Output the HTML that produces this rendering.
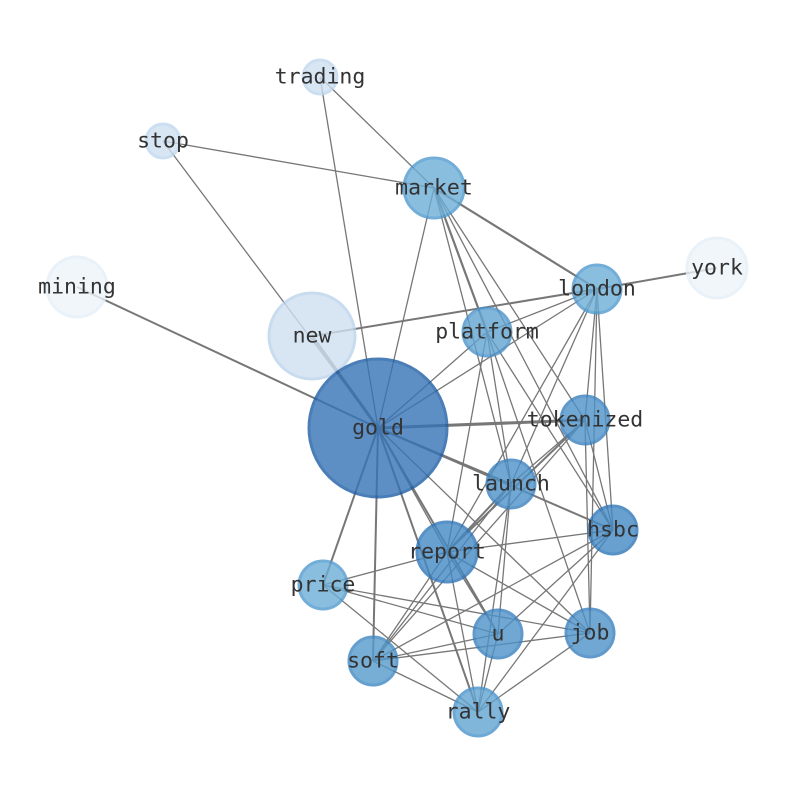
<!DOCTYPE html>
<html><head><meta charset="utf-8"><style>html,body{margin:0;padding:0;background:#fff}svg{display:block}</style></head><body>
<svg width="794" height="790" viewBox="0 0 794 790" xmlns="http://www.w3.org/2000/svg">
<g stroke="#777" stroke-width="1.3" fill="none">
<line x1="320" y1="77" x2="434" y2="188"/><line x1="320" y1="77" x2="378" y2="428"/>
<line x1="163" y1="141" x2="434" y2="188"/><line x1="163" y1="141" x2="378" y2="428"/>
<line x1="434" y1="188" x2="597" y2="289" stroke-width="2.2"/><line x1="434" y1="188" x2="487" y2="332" stroke-width="2.2"/>
<line x1="434" y1="188" x2="378" y2="428"/><line x1="434" y1="188" x2="585" y2="420"/><line x1="434" y1="188" x2="511" y2="484"/><line x1="434" y1="188" x2="613" y2="530"/>
<line x1="77" y1="287" x2="378" y2="428" stroke-width="2"/>
<line x1="717" y1="268" x2="597" y2="289" stroke-width="2"/>
<line x1="312" y1="336" x2="597" y2="289" stroke-width="2"/>
<line x1="312" y1="336" x2="378" y2="428" stroke-width="3"/>
<line x1="597" y1="289" x2="487" y2="332"/><line x1="597" y1="289" x2="378" y2="428"/><line x1="597" y1="289" x2="585" y2="420"/><line x1="597" y1="289" x2="511" y2="484"/><line x1="597" y1="289" x2="613" y2="530"/><line x1="597" y1="289" x2="447" y2="552"/><line x1="597" y1="289" x2="590" y2="633"/>
<line x1="487" y1="332" x2="378" y2="428"/><line x1="487" y1="332" x2="447" y2="552"/><line x1="487" y1="332" x2="511" y2="484"/><line x1="487" y1="332" x2="613" y2="530"/><line x1="487" y1="332" x2="590" y2="633"/>
<line x1="378" y1="428" x2="585" y2="420" stroke-width="3"/><line x1="378" y1="428" x2="511" y2="484" stroke-width="2"/><line x1="378" y1="428" x2="613" y2="530" stroke-width="2"/>
<line x1="378" y1="428" x2="447" y2="552"/><line x1="378" y1="428" x2="323" y2="585" stroke-width="2"/><line x1="378" y1="428" x2="373" y2="661" stroke-width="2"/>
<line x1="378" y1="428" x2="498" y2="634" stroke-width="2"/><line x1="378" y1="428" x2="478" y2="712" stroke-width="2"/><line x1="378" y1="428" x2="590" y2="633"/>
<line x1="585" y1="420" x2="511" y2="484"/><line x1="585" y1="420" x2="447" y2="552" stroke-width="2"/><line x1="585" y1="420" x2="373" y2="661"/><line x1="585" y1="420" x2="613" y2="530"/><line x1="585" y1="420" x2="590" y2="633"/>
<line x1="511" y1="484" x2="447" y2="552" stroke-width="2"/><line x1="511" y1="484" x2="498" y2="634"/><line x1="511" y1="484" x2="478" y2="712"/><line x1="511" y1="484" x2="373" y2="661"/>
<line x1="613" y1="530" x2="447" y2="552"/><line x1="613" y1="530" x2="498" y2="634"/><line x1="613" y1="530" x2="373" y2="661"/><line x1="613" y1="530" x2="478" y2="712"/>
<line x1="323" y1="585" x2="447" y2="552"/><line x1="323" y1="585" x2="590" y2="633"/><line x1="323" y1="585" x2="498" y2="634"/><line x1="323" y1="585" x2="478" y2="712"/>
<line x1="447" y1="552" x2="373" y2="661"/><line x1="447" y1="552" x2="498" y2="634"/><line x1="447" y1="552" x2="478" y2="712"/><line x1="447" y1="552" x2="590" y2="633"/>
<line x1="373" y1="661" x2="498" y2="634"/><line x1="373" y1="661" x2="590" y2="633"/><line x1="373" y1="661" x2="478" y2="712"/>
<line x1="498" y1="634" x2="478" y2="712"/><line x1="590" y1="633" x2="478" y2="712"/>
</g>
<g stroke-width="3" opacity="0.8">
<circle cx="320" cy="77" r="17" fill="#cfe0f2" stroke="#c0d6ee"/>
<circle cx="163" cy="141" r="17" fill="#cfe0f2" stroke="#c0d6ee"/>
<circle cx="77" cy="287" r="30" fill="#eef4fb" stroke="#e6eff8"/>
<circle cx="717" cy="268" r="30" fill="#eef4fb" stroke="#e6eff8"/>
<circle cx="312" cy="336" r="43" fill="#cfe0f2" stroke="#bcd4ec"/>
<circle cx="434" cy="188" r="30" fill="#6daed8" stroke="#4f9acf"/>
<circle cx="597" cy="289" r="24" fill="#6daed8" stroke="#4f9acf"/>
<circle cx="487" cy="332" r="24" fill="#62a4d3" stroke="#4b93cb"/>
<circle cx="378" cy="428" r="69" fill="#3574b6" stroke="#1f5fa6"/>
<circle cx="585" cy="420" r="24" fill="#4d92c9" stroke="#3a80bf"/>
<circle cx="511" cy="484" r="24" fill="#4d92c9" stroke="#3a80bf"/>
<circle cx="613" cy="530" r="24" fill="#4389c4" stroke="#2f76b8"/>
<circle cx="447" cy="552" r="30" fill="#4389c4" stroke="#2f76b8"/>
<circle cx="323" cy="585" r="24" fill="#6daed8" stroke="#4f9acf"/>
<circle cx="498" cy="634" r="24" fill="#4d92c9" stroke="#3a80bf"/>
<circle cx="590" cy="633" r="24" fill="#4d92c9" stroke="#3a80bf"/>
<circle cx="373" cy="661" r="24" fill="#559acd" stroke="#3f88c3"/>
<circle cx="478" cy="712" r="24" fill="#62a4d3" stroke="#4b93cb"/>
</g>
<g font-family="DejaVu Sans Mono, Liberation Mono, monospace" font-size="21.5" fill="#333" text-anchor="middle" dominant-baseline="central">
<text x="320" y="77">trading</text><text x="163" y="141">stop</text><text x="434" y="188">market</text>
<text x="77" y="287">mining</text><text x="717" y="268">york</text><text x="597" y="289">london</text>
<text x="312" y="336">new</text><text x="487" y="332">platform</text><text x="378" y="428">gold</text>
<text x="585" y="420">tokenized</text><text x="511" y="484">launch</text><text x="613" y="530">hsbc</text>
<text x="447" y="552">report</text><text x="323" y="585">price</text><text x="498" y="634">u</text>
<text x="590" y="633">job</text><text x="373" y="661">soft</text><text x="478" y="712">rally</text>
</g>
</svg>
</body></html>
